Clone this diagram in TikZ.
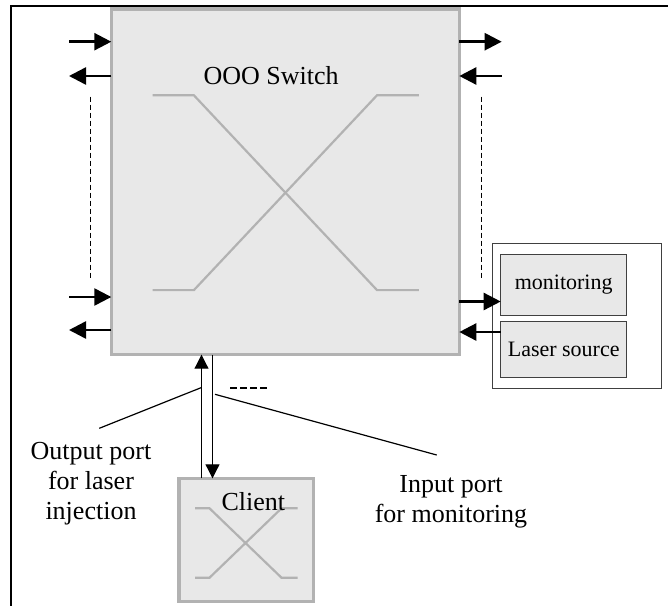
\documentclass[tikz,border=0pt]{standalone}
\usepackage{fontspec}
\setmainfont{Liberation Serif}
\usetikzlibrary{arrows.meta,positioning}

\begin{document}
\begin{tikzpicture}[x=1pt, y=-1pt, auto]
    \tikzstyle{switchbox} = [rectangle, draw=gray!60, line width=3.3pt, fill=gray!18, inner sep=0pt, outer sep=0pt]
    \tikzstyle{unitbox} = [rectangle, draw=black!75, line width=1pt, fill=gray!18, minimum width=126pt, inner sep=0pt, outer sep=0pt, font=\fontsize{22}{26}\selectfont]
    \tikzstyle{bigtext} = [font=\fontsize{26}{30}\selectfont, align=center, inner sep=0pt]
    \tikzstyle{port} = [line width=2.5pt, -{Triangle[length=17pt, width=17pt]}]
    \tikzstyle{fibre} = [line width=1pt, -{Triangle[length=14pt, width=14pt]}]
    \tikzstyle{cross} = [draw=gray!60, line width=2.2pt]
    \tikzstyle{gapline} = [line width=1.2pt, dash pattern=on 5pt off 3pt]

    \useasboundingbox (0,0) rectangle (668,605);
    \draw[line width=2pt] (11,606) -- (11,5.8) -- (669,5.8);

    % optical switch
    \node[switchbox, minimum width=348pt, minimum height=345.7pt] (switch) at (285.3,181.85) {};
    \draw[cross] (152.5,95.3) -- (193.9,95.3) -- (377,290.1) -- (418.8,290.1);
    \draw[cross] (152.5,290.1) -- (193.9,290.1) -- (377,95.3) -- (418.8,95.3);
    \node[bigtext, anchor=base] (swname) at (271.2,84) {OOO Switch};

    % client
    \node[switchbox, minimum width=134.3pt, minimum height=123.4pt] (client) at (246.2,540) {};
    \draw[cross] (195,508.3) -- (209.5,508.3) -- (281.5,577.7) -- (297.7,577.7);
    \draw[cross] (195,577.7) -- (209.5,577.7) -- (281.5,508.3) -- (297.7,508.3);
    \node[bigtext, anchor=base] (clientname) at (253.3,510) {Client};

    % monitoring and laser
    \node[rectangle, draw=black!75, line width=1pt, minimum width=168.3pt, minimum height=145.3pt, inner sep=0pt] (rack) at (576.85,315.7) {};
    \node[unitbox, minimum height=61pt] (monitor) at (563.7,284.5) {monitoring};
    \node[unitbox, minimum height=56.7pt, below=6pt of monitor] (laser) {Laser source};

    % ports
    \coordinate (inA) at (69,41.7);
    \coordinate (outA) at (69,76);
    \coordinate (inB) at (69,297);
    \coordinate (outB) at (69,330);
    \coordinate (outC) at (501.7,41.7);
    \coordinate (inC) at (501.7,76);
    \coordinate (tomon) at (480,301.5);
    \coordinate (fromlaser) at (480,332);
    \draw[port] (inA) -- (inA -| switch.west);
    \draw[port] (outA -| switch.west) -- (outA);
    \draw[port] (inB) -- (inB -| switch.west);
    \draw[port] (outB -| switch.west) -- (outB);
    \draw[port] (outC -| switch.east) -- (outC);
    \draw[port] (inC) -- (inC -| switch.east);
    \draw[port] (tomon -| switch.east) -- (tomon -| monitor.west);
    \draw[port] (fromlaser -| laser.west) -- (fromlaser -| switch.east);
    \draw[gapline] (90.7,96.5) -- (90.7,277.8);
    \draw[gapline] (481.7,96.5) -- (481.7,277.8);

    % client links
    \coordinate (inj) at (201.5,420);
    \coordinate (mon) at (212.5,420);
    \draw[fibre] (inj |- client.north) -- (inj |- switch.south);
    \draw[fibre] (mon |- switch.south) -- (mon |- client.north);
    \draw[gapline, dash pattern=on 6.5pt off 3.5pt] (230,388) -- (267,388);

    % labels
    \node[bigtext] (injlbl) at (91,484) {Output port\\for laser\\injection};
    \node[bigtext] (monlbl) at (451,502) {Input port\\for monitoring};
    \coordinate (injtap) at (201,387.7);
    \coordinate (injend) at (99.3,428.3);
    \coordinate (montap) at (215,394.3);
    \coordinate (monend) at (436.7,455);
    \draw[line width=1.2pt] (injtap) -- (injend);
    \draw[line width=1.2pt] (montap) -- (monend);
\end{tikzpicture}
\end{document}
